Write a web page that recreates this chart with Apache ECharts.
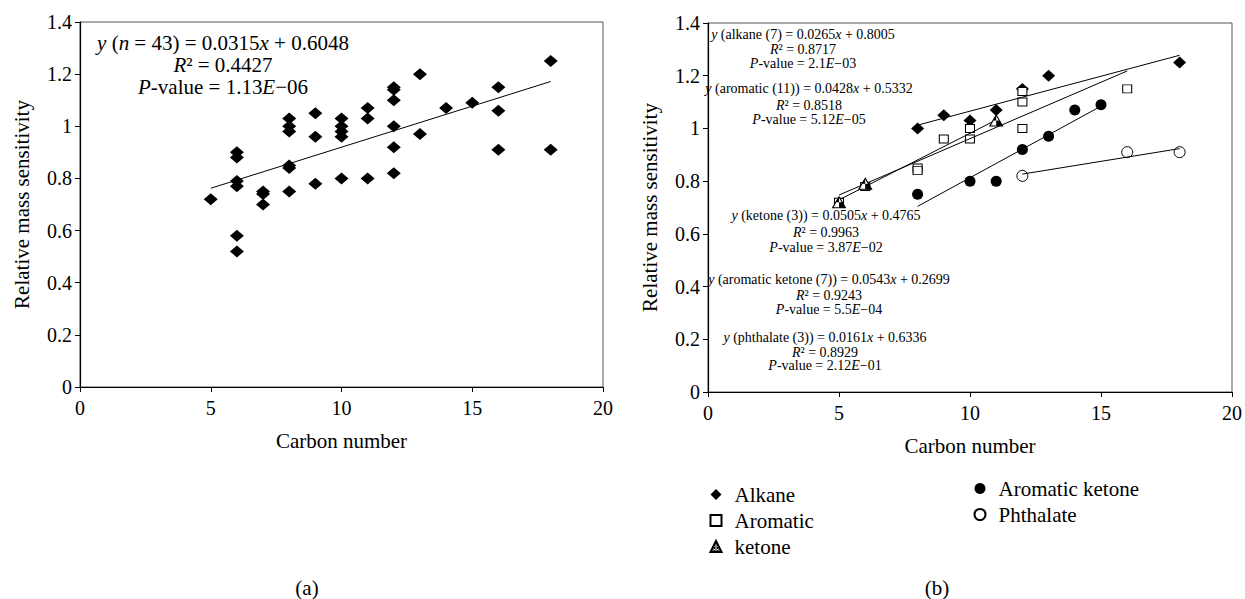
<!DOCTYPE html>
<html>
<head>
<meta charset="utf-8">
<title>Relative mass sensitivity vs carbon number</title>
<script src="https://cdn.jsdelivr.net/npm/echarts@6/dist/echarts.min.js"></script>
<style>
  html, body { margin: 0; padding: 0; background: #fff; }
  #main { width: 1245px; height: 599px; }
</style>
</head>
<body>
<div id="main"></div>
<script>
// (a) all compounds
var allX = [5, 6, 6, 6, 6, 6, 6, 7, 7, 7, 8, 8, 8, 8, 8, 8, 9, 9, 9, 10, 10, 10, 10, 10,
            11, 11, 11, 12, 12, 12, 12, 12, 12, 13, 13, 14, 15, 16, 16, 16, 18, 18];
var allY = [0.72, 0.90, 0.88, 0.79, 0.77, 0.58, 0.52, 0.75, 0.74, 0.70, 1.03, 1.00, 0.98, 0.85, 0.84, 0.75,
            1.05, 0.96, 0.78, 1.03, 1.00, 0.98, 0.96, 0.80, 1.07, 1.03, 0.80, 1.15, 1.14, 1.10, 1.00, 0.92, 0.82,
            1.20, 0.97, 1.07, 1.09, 1.15, 1.06, 0.91, 1.25, 0.91];

// (b) by compound class
var alkaneX = [8, 9, 10, 11, 12, 13, 18];
var alkaneY = [1.00, 1.05, 1.03, 1.07, 1.15, 1.20, 1.25];
var aromaticX = [5, 6, 8, 8, 9, 10, 10, 12, 12, 12, 16];
var aromaticY = [0.72, 0.78, 0.85, 0.84, 0.96, 1.00, 0.96, 1.14, 1.10, 1.00, 1.15];
var ketoneX = [5, 6, 11];
var ketoneY = [0.72, 0.79, 1.03];
var aroKetoneX = [8, 10, 11, 12, 13, 14, 15];
var aroKetoneY = [0.75, 0.80, 0.80, 0.92, 0.97, 1.07, 1.09];
var phthalateX = [12, 16, 18];
var phthalateY = [0.82, 0.91, 0.91];

// linear fits: all, alkane, aromatic, ketone, aromatic ketone, phthalate
var fitNames = ['all', 'alkane', 'aromatic', 'ketone', 'aroKetone', 'phthalate'];
var fitSlope = [0.0315, 0.0265, 0.0428, 0.0505, 0.0543, 0.0161];
var fitIntercept = [0.6048, 0.8005, 0.5332, 0.4765, 0.2699, 0.6336];
var fitFrom = [5, 8, 5, 5, 8, 12];
var fitTo = [18, 18, 16, 11, 15, 18];

var legendLeft = ['Alkane', 'Aromatic', 'ketone'];
var legendRight = ['Aromatic ketone', 'Phthalate'];

var xTicks = { min: 0, max: 20, interval: 5 };
var yTicks = { min: 0, max: 1.4, interval: 0.2 };

var F = "'Liberation Serif', 'Times New Roman', serif";

function pts(xs, ys) {
  return xs.map(function (x, i) { return [x, ys[i]]; });
}

function fitLine(k, grid) {
  var a = fitSlope[k], b = fitIntercept[k];
  return {
    name: 'fit-' + fitNames[k], type: 'line', xAxisIndex: grid, yAxisIndex: grid,
    data: [[fitFrom[k], a * fitFrom[k] + b], [fitTo[k], a * fitTo[k] + b]],
    symbol: 'none', silent: true, z: 3,
    lineStyle: { color: '#000', width: 1 }
  };
}

// dotted fill for the ketone triangles
var pat = document.createElement('canvas');
pat.width = 3; pat.height = 3;
var pc = pat.getContext('2d');
pc.fillStyle = '#fff'; pc.fillRect(0, 0, 3, 3);
pc.fillStyle = '#000'; pc.fillRect(0, 0, 2, 2); pc.fillRect(2, 2, 1, 1);

function xAxis(i) {
  return {
    gridIndex: i, type: 'value', min: xTicks.min, max: xTicks.max, interval: xTicks.interval,
    name: 'Carbon number', nameLocation: 'middle', nameGap: 43,
    nameTextStyle: { fontFamily: F, fontSize: 21, color: '#000' },
    axisLine: { show: true, onZero: false, lineStyle: { color: '#000', width: 1.2 } },
    axisTick: { show: true, length: 5, lineStyle: { color: '#000' } },
    axisLabel: { fontFamily: F, fontSize: 20, color: '#000', margin: 11 },
    splitLine: { show: false }
  };
}
function yAxis(i) {
  return {
    gridIndex: i, type: 'value', min: yTicks.min, max: yTicks.max, interval: yTicks.interval,
    name: 'Relative mass sensitivity', nameLocation: 'middle', nameGap: 48,
    nameTextStyle: { fontFamily: F, fontSize: 21, color: '#000' },
    axisLine: { show: true, onZero: false, lineStyle: { color: '#000', width: 1.2 } },
    axisTick: { show: true, length: 5, lineStyle: { color: '#000' } },
    axisLabel: { fontFamily: F, fontSize: 20, color: '#000', margin: 8 },
    splitLine: { show: false }
  };
}

// one line of text; {i|..} parts are italic
function line(x, y, text, size) {
  return {
    type: 'text', x: x, y: y, silent: true, z: 10,
    style: {
      text: text, fontFamily: F, fontSize: size, fill: '#000',
      align: 'center', verticalAlign: 'middle',
      rich: { i: { fontFamily: F, fontSize: size, fontStyle: 'italic', fill: '#000' } }
    }
  };
}
function note(x, ys, lines, size) {
  return lines.map(function (t, k) { return line(x, ys[k], t, size); });
}

var legendBase = {
  orient: 'vertical', itemWidth: 11, itemHeight: 11, itemGap: 5,
  selectedMode: false,
  textStyle: { fontFamily: F, fontSize: 21, color: '#000', padding: [0, 0, 0, 8] }
};

var chart = echarts.init(document.getElementById('main'), null, { renderer: 'svg' });

var option = {
  animation: false,
  backgroundColor: '#fff',
  textStyle: { fontFamily: F, color: '#000' },
  grid: [
    { left: 80, top: 22, width: 523, height: 365, show: true, borderColor: '#555', borderWidth: 1 },
    { left: 708, top: 23, width: 524, height: 369, show: true, borderColor: '#555', borderWidth: 1 }
  ],
  xAxis: [xAxis(0), xAxis(1)],
  yAxis: [yAxis(0), yAxis(1)],
  legend: [
    Object.assign({}, legendBase, { data: legendLeft, left: 704.5, top: 479 }),
    Object.assign({}, legendBase, { data: legendRight, left: 968.5, top: 473 })
  ],
  series: [
    {
      name: 'All compounds', type: 'scatter', xAxisIndex: 0, yAxisIndex: 0,
      data: pts(allX, allY), symbol: 'diamond', symbolSize: [14, 12],
      itemStyle: { color: '#000', opacity: 1 }
    },
    fitLine(0, 0),
    {
      name: 'Alkane', type: 'scatter', xAxisIndex: 1, yAxisIndex: 1,
      data: pts(alkaneX, alkaneY), symbol: 'diamond', symbolSize: [13, 12],
      itemStyle: { color: '#000', opacity: 1 }
    },
    {
      name: 'Aromatic', type: 'scatter', xAxisIndex: 1, yAxisIndex: 1,
      data: pts(aromaticX, aromaticY), symbol: 'rect', symbolSize: [9, 8],
      itemStyle: { color: '#fff', borderColor: '#000', borderWidth: 1, opacity: 1 }
    },
    {
      name: 'ketone', type: 'scatter', xAxisIndex: 1, yAxisIndex: 1, z: 4,
      data: pts(ketoneX, ketoneY), symbol: 'triangle', symbolSize: [13, 11],
      itemStyle: { color: { image: pat, repeat: 'repeat' }, borderColor: '#000', borderWidth: 1, opacity: 1 }
    },
    {
      name: 'Aromatic ketone', type: 'scatter', xAxisIndex: 1, yAxisIndex: 1,
      data: pts(aroKetoneX, aroKetoneY), symbol: 'circle', symbolSize: 11,
      itemStyle: { color: '#000', opacity: 1 }
    },
    {
      name: 'Phthalate', type: 'scatter', xAxisIndex: 1, yAxisIndex: 1,
      data: pts(phthalateX, phthalateY), symbol: 'circle', symbolSize: 11,
      itemStyle: { color: '#fff', borderColor: '#000', borderWidth: 1, opacity: 1 }
    },
    fitLine(1, 1), fitLine(2, 1), fitLine(3, 1), fitLine(4, 1), fitLine(5, 1)
  ],
  graphic: [].concat(
    note(223, [43, 65, 87], ['{i|y} ({i|n} = 43) = 0.0315{i|x} + 0.6048', '{i|R}\u00b2 = 0.4427', '{i|P}-value = 1.13{i|E}\u221206'], 21),
    note(803, [34, 49, 63], ['{i|y} (alkane (7) = 0.0265{i|x} + 0.8005', '{i|R}\u00b2 = 0.8717', '{i|P}-value = 2.1{i|E}\u221203'], 14),
    note(809, [88, 105, 119], ['{i|y} (aromatic (11)) = 0.0428{i|x} + 0.5332', '{i|R}\u00b2 = 0.8518', '{i|P}-value = 5.12{i|E}\u221205'], 14),
    note(826, [215, 232, 247], ['{i|y} (ketone (3)) = 0.0505{i|x} + 0.4765', '{i|R}\u00b2 = 0.9963', '{i|P}-value = 3.87{i|E}\u221202'], 14),
    note(829, [279, 295, 309], ['{i|y} (aromatic ketone (7)) = 0.0543{i|x} + 0.2699', '{i|R}\u00b2 = 0.9243', '{i|P}-value = 5.5{i|E}\u221204'], 14),
    note(825, [337, 352, 365], ['{i|y} (phthalate (3)) = 0.0161{i|x} + 0.6336', '{i|R}\u00b2 = 0.8929', '{i|P}-value = 2.12{i|E}\u221201'], 14),
    [
      { type: 'text', x: 307, y: 588, silent: true,
        style: { text: '(a)', fontFamily: F, fontSize: 21, fill: '#000', align: 'center', verticalAlign: 'middle' } },
      { type: 'text', x: 937, y: 588, silent: true,
        style: { text: '(b)', fontFamily: F, fontSize: 21, fill: '#000', align: 'center', verticalAlign: 'middle' } }
    ]
  )
};

chart.setOption(option);
</script>
</body>
</html>
